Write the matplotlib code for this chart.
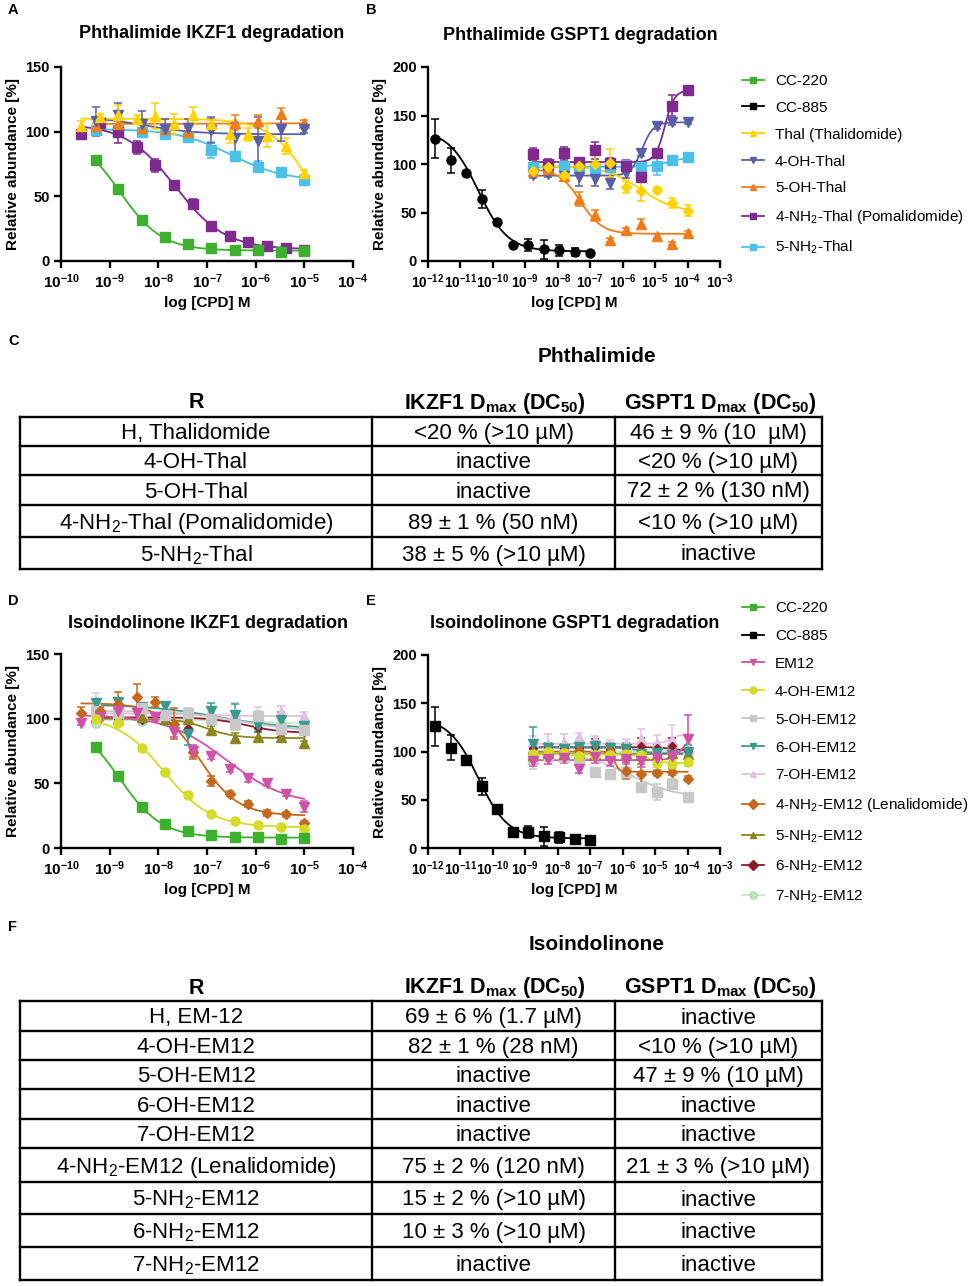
import numpy as np
import matplotlib
matplotlib.use("Agg")
import matplotlib.pyplot as plt
from matplotlib.lines import Line2D

plt.rcParams['font.family'] = ['Liberation Sans', 'DejaVu Sans']
plt.rcParams['mathtext.fontset'] = 'custom'
plt.rcParams['mathtext.rm'] = 'Liberation Sans'
plt.rcParams['mathtext.it'] = 'Liberation Sans:italic'
plt.rcParams['mathtext.bf'] = 'Liberation Sans:bold'

# log10 concentrations [M]
log_c10 = [-9.29, -8.82, -8.34, -7.86, -7.39, -6.91, -6.43, -5.95, -5.48, -5.0]
log_c13 = [-9.58, -9.20, -8.82, -8.44, -8.06, -7.67, -7.29, -6.91, -6.53, -6.15, -5.76, -5.38, -5.0]
log_c885 = [-11.77, -11.29, -10.82, -10.34, -9.86, -9.38, -8.91, -8.43, -7.95, -7.48, -7.0]
log_cg = [-8.77, -8.29, -7.82, -7.34, -6.86, -6.39, -5.91, -5.43, -4.95, -4.48, -4.0]

# panel A: phthalimide IKZF1
a_cc220 = [77.8, 55.4, 31.4, 18.6, 12.9, 10.0, 8.2, 8.5, 7.2, 7.7]
a_cc220_sd = [1.5, 1.5, 1.5, 1.5, 1.5, 1.5, 1.0, 1.0, 1.0, 1.0]
a_thal = [104, 111, 113, 110, 112, 106, 113, 106, 98, 98, 97, 89, 68]
a_thal_sd = [4, 3, 8, 3, 10, 8, 6, 3, 7, 5, 9, 6, 2]
a_4oh = [108, 113, 106, 102, 103, 101, 95, 93, 102, 102]
a_4oh_sd = [11, 9, 10, 8, 7, 10, 12, 18, 9, 3]
a_5oh = [104, 106, 103, 102, 100, 106, 107, 108, 114, 107]
a_5oh_sd = [3, 3, 3, 3, 3, 4, 6, 5, 4, 2]
a_pom = [98, 107, 100, 88, 74, 58.5, 44, 27, 19.5, 14.5, 11.5, 10, 8.5]
a_pom_sd = [2, 3, 9, 5, 5, 2, 4, 3, 2, 2, 2, 2, 2]
a_5nh2 = [101, 101, 100, 98, 96, 86, 81, 73, 69, 63]
a_5nh2_sd = [3, 2, 3, 2, 3, 6, 3, 4, 2, 2]

# panel B: phthalimide GSPT1
b_cc885 = [126, 104, 91, 64, 40, 16.5, 16.5, 12, 11, 9.5, 8.5]
b_cc885_sd = [20, 13, 2, 9, 3, 2, 6, 10, 6, 4, 2]
b_thal = [93, 97, 89, 98, 100, 101, 76, 72, 73, 60, 52]
b_thal_sd = [5, 7, 4, 3, 10, 14, 6, 10, 3, 5, 6]
b_4oh = [89, 90, 88, 87, 85, 80, 91, 111, 139, 143, 143]
b_4oh_sd = [3, 3, 3, 10, 8, 6, 5, 3, 3, 3, 2]
b_5oh = [93, 95, 88, 64, 47, 22, 32, 38, 26, 18, 29]
b_5oh_sd = [5, 5, 5, 7, 6, 2, 2, 5, 2, 2, 2]
b_pom = [110, 100, 111, 102, 114, 101, 98, 87, 111, 160, 176]
b_pom_sd = [6, 5, 7, 3, 9, 5, 6, 5, 3, 11, 4]
b_5nh2 = [97, 96, 98, 97, 96, 97, 99, 97, 98, 104, 107]
b_5nh2_sd = [3, 3, 4, 3, 4, 3, 3, 4, 9, 3, 4]

# panel D: isoindolinone IKZF1
d_em12 = [97, 101, 106, 104, 101, 90, 75, 71, 61, 54, 50, 42, 32]
d_em12_sd = [2, 3, 4, 5, 3, 4, 5, 2, 2, 3, 2, 2, 4]
d_4oh = [100, 97, 77, 59, 41, 26, 20.5, 17.5, 16.5, 15]
d_4oh_sd = [2, 2, 2, 2, 2, 2, 2, 2, 2, 2]
d_5oh = [106, 104, 108, 103, 104, 100, 96, 102, 92, 91]
d_5oh_sd = [4, 3, 4, 3, 4, 4, 5, 4, 4, 3]
d_6oh = [112, 113, 109, 110, 88, 106, 103, 95, 99, 94]
d_6oh_sd = [3, 3, 3, 3, 8, 6, 8, 5, 6, 4]
d_7oh = [113, 106, 104, 103, 104, 103, 104, 102, 105, 102]
d_7oh_sd = [7, 5, 4, 4, 3, 5, 8, 7, 5, 3]
d_lena = [104, 106, 111, 117, 113, 96, 74, 52, 42, 34, 27, 26, 19]
d_lena_sd = [5, 3, 10, 10, 4, 12, 5, 4, 2, 2, 2, 2, 2]
d_5nh2 = [101, 100, 101, 100, 100, 91, 85, 86, 86, 81]
d_5nh2_sd = [3, 3, 3, 3, 3, 3, 4, 4, 3, 2]
d_6nh2 = [102, 100, 99, 101, 93, 100, 98, 93, 89, 90]
d_6nh2_sd = [2, 2, 2, 2, 3, 3, 3, 3, 3, 2]
d_7nh2 = [97, 99, 98, 100, 99, 98, 100, 97, 95, 96]
d_7nh2_sd = [3, 3, 3, 3, 3, 3, 3, 3, 3, 3]

# panel E: isoindolinone GSPT1
e_em12 = [90, 92, 93, 82, 94, 90, 92, 90, 93, 95, 113]
e_em12_sd = [5, 5, 5, 4, 6, 5, 5, 6, 6, 12, 25]
e_4oh = [97, 99, 98, 95, 96, 96, 97, 96, 88, 87, 89]
e_4oh_sd = [4, 4, 4, 4, 4, 4, 4, 4, 4, 5, 4]
e_5oh = [92, 95, 94, 92, 79, 77, 79, 63, 58, 66, 53]
e_5oh_sd = [10, 5, 5, 5, 4, 3, 5, 4, 8, 5, 3]
e_6oh = [108, 104, 103, 105, 106, 104, 103, 97, 98, 96, 100]
e_6oh_sd = [17, 5, 5, 5, 4, 5, 6, 6, 5, 7, 7]
e_7oh = [110, 108, 110, 115, 112, 107, 108, 113, 109, 112, 103]
e_7oh_sd = [6, 10, 8, 4, 4, 5, 5, 10, 8, 15, 5]
e_lena = [98, 100, 99, 101, 97, 100, 80, 77, 78, 79, 72]
e_lena_sd = [3, 3, 4, 3, 3, 4, 9, 10, 3, 3, 3]
e_5nh2 = [96, 98, 97, 98, 97, 97, 98, 96, 97, 98, 97]
e_5nh2_sd = [3, 3, 3, 3, 3, 3, 3, 3, 3, 3, 3]
e_6nh2 = [104, 105, 104, 104, 105, 103, 104, 106, 104, 106, 101]
e_6nh2_sd = [3, 3, 3, 3, 8, 3, 3, 8, 3, 8, 3]
e_7nh2 = [100, 100, 101, 99, 100, 100, 99, 101, 100, 100, 99]
e_7nh2_sd = [3, 3, 3, 3, 3, 3, 3, 3, 3, 3, 3]

# fitted 4PL parameters: (low-conc plateau, high-conc plateau, logEC50, hill)
fit_cc220 = (100, 8, -8.8, 1.0)
fit_cc885 = (135, 10, -10.45, 0.95)

colors = {
    'CC-220': '#3db02d', 'CC-885': '#000000', 'Thal': '#ffd200', '4-OH-Thal': '#5a5ea8',
    '5-OH-Thal': '#f07d1a', 'Pom': '#7e2a8e', '5-NH2-Thal': '#4cc0e8',
    'EM12': '#d052a8', '4-OH-EM12': '#d4dc28', '5-OH-EM12': '#c8c8c8', '6-OH-EM12': '#3a9a8c',
    '7-OH-EM12': '#e2c2e2', 'Lena': '#c2691e', '5-NH2-EM12': '#8a8620', '6-NH2-EM12': '#8c1a2c',
    '7-NH2-EM12': '#c6e6c6',
}

W, H = 976, 1286
fig = plt.figure(figsize=(W / 100, H / 100), dpi=100)


def px_axes(left, top, right, bottom):
    return fig.add_axes([left / W, 1 - bottom / H, (right - left) / W, (bottom - top) / H])


def plot_series(ax, logx, y, sd, color, marker, fit, ms=6.5, ec=None):
    x = 10.0 ** np.array(logx)
    ax.errorbar(x, y, yerr=sd, fmt=marker, color=color, ms=ms, mec=ec or color,
                elinewidth=1.1, capsize=3, capthick=1.1, zorder=3, clip_on=False)
    xx = np.linspace(min(logx), max(logx), 300)
    top, bot, c, h = fit
    yy = bot + (top - bot) / (1 + 10 ** ((xx - c) * h))
    ax.plot(10 ** xx, yy, color=color, lw=1.3, zorder=2)


def style_axes(ax, xmin, xmax, ymax, xlabsize):
    ax.set_xscale('log')
    ax.set_xlim(10.0 ** xmin, 10.0 ** xmax)
    ax.set_ylim(0, ymax)
    ks = list(range(xmin, xmax + 1))
    ax.set_xticks([10.0 ** k for k in ks])
    ax.set_xticklabels([r'$\mathbf{10^{%d}}$' % k for k in ks])
    ax.xaxis.set_minor_locator(matplotlib.ticker.NullLocator())
    ax.set_yticks(np.arange(0, ymax + 1, 50))
    ax.set_yticklabels([str(v) for v in range(0, ymax + 1, 50)], fontweight='bold')
    for s in ['top', 'right']:
        ax.spines[s].set_visible(False)
    for s in ['left', 'bottom']:
        ax.spines[s].set_linewidth(1.7)
    ax.tick_params(width=1.7, length=5, labelsize=10.5, pad=3)
    ax.tick_params(axis='x', labelsize=xlabsize)
    ax.set_xlabel('log [CPD] M', fontweight='bold', fontsize=11, labelpad=4)
    ax.set_ylabel('Relative abundance [%]', fontweight='bold', fontsize=11, labelpad=4)
    ax.patch.set_alpha(0)


# ---- panel A
ax = px_axes(61, 67, 353, 261)
plot_series(ax, log_c10, a_5nh2, a_5nh2_sd, colors['5-NH2-Thal'], 's', (102, 62, -6.5, 0.8))
plot_series(ax, log_c13, a_pom, a_pom_sd, colors['Pom'], 's', (106, 9, -7.65, 0.85))
plot_series(ax, log_c10, a_5oh, a_5oh_sd, colors['5-OH-Thal'], '^', (106, 106.5, -7.0, 1.0))
plot_series(ax, log_c10, a_4oh, a_4oh_sd, colors['4-OH-Thal'], 'v', (112, 98, -8.3, 0.8))
plot_series(ax, log_c13, a_thal, a_thal_sd, colors['Thal'], '^', (110, 0, -4.79, 1.0))
plot_series(ax, log_c10, a_cc220, a_cc220_sd, colors['CC-220'], 's', fit_cc220)
style_axes(ax, -10, -4, 150, 11)
fig.text(212 / W, 1 - 34 / H, 'Phthalimide IKZF1 degradation', ha='center', va='center',
         fontsize=13, fontweight='bold')

# ---- panel B
ax = px_axes(428, 67, 720, 261)
plot_series(ax, log_c885, b_cc885, b_cc885_sd, colors['CC-885'], 'o', fit_cc885)
plot_series(ax, log_cg, b_5nh2, b_5nh2_sd, colors['5-NH2-Thal'], 's', (97, 107, -4.6, 1.5))
plot_series(ax, log_cg, b_4oh, b_4oh_sd, colors['4-OH-Thal'], 'v', (88, 143, -5.4, 2.5))
plot_series(ax, log_cg, b_pom, b_pom_sd, colors['Pom'], 's', (102, 176, -4.7, 3.0))
plot_series(ax, log_cg, b_5oh, b_5oh_sd, colors['5-OH-Thal'], '^', (95, 28, -7.3, 1.3))
plot_series(ax, log_cg, b_thal, b_thal_sd, colors['Thal'], 'D', (98, 50, -5.45, 0.8), ms=5.5)
style_axes(ax, -12, -3, 200, 9.8)
fig.text(580 / W, 1 - 35 / H, 'Phthalimide GSPT1 degradation', ha='center', va='center',
         fontsize=13, fontweight='bold')

# ---- panel D
ax = px_axes(61, 654, 353, 848)
plot_series(ax, log_c10, d_7nh2, d_7nh2_sd, colors['7-NH2-EM12'], 'o', (99, 96, -6.0, 1.0), ec='#b0d8b0')
plot_series(ax, log_c10, d_7oh, d_7oh_sd, colors['7-OH-EM12'], '^', (104, 102, -7.0, 1.0))
plot_series(ax, log_c10, d_6nh2, d_6nh2_sd, colors['6-NH2-EM12'], 'D', (101, 89, -6.2, 1.2), ms=4.5)
plot_series(ax, log_c10, d_5nh2, d_5nh2_sd, colors['5-NH2-EM12'], '^', (100, 85, -7.0, 1.5))
plot_series(ax, log_c10, d_6oh, d_6oh_sd, colors['6-OH-EM12'], 'v', (111, 92, -6.8, 0.6))
plot_series(ax, log_c10, d_5oh, d_5oh_sd, colors['5-OH-EM12'], 's', (106, 90, -6.3, 0.7))
plot_series(ax, log_c13, d_lena, d_lena_sd, colors['Lena'], 'D', (112, 25, -7.15, 1.1), ms=5.5)
plot_series(ax, log_c13, d_em12, d_em12_sd, colors['EM12'], 'v', (103, 33, -6.6, 0.7))
plot_series(ax, log_c10, d_4oh, d_4oh_sd, colors['4-OH-EM12'], 'o', (102, 16, -7.88, 0.9))
plot_series(ax, log_c10, a_cc220, a_cc220_sd, colors['CC-220'], 's', fit_cc220)
style_axes(ax, -10, -4, 150, 11)
fig.text(208 / W, 1 - 623 / H, 'Isoindolinone IKZF1 degradation', ha='center', va='center',
         fontsize=13, fontweight='bold')

# ---- panel E
ax = px_axes(428, 655, 720, 848)
plot_series(ax, log_c885, b_cc885, b_cc885_sd, colors['CC-885'], 's', fit_cc885)
plot_series(ax, log_cg, e_7nh2, e_7nh2_sd, colors['7-NH2-EM12'], 'o', (100, 100, -6.0, 1.0), ec='#b0d8b0')
plot_series(ax, log_cg, e_5oh, e_5oh_sd, colors['5-OH-EM12'], 's', (100, 52, -5.8, 0.6))
plot_series(ax, log_cg, e_7oh, e_7oh_sd, colors['7-OH-EM12'], '^', (108, 118, -4.5, 3.0))
plot_series(ax, log_cg, e_5nh2, e_5nh2_sd, colors['5-NH2-EM12'], '^', (97, 97, -6.0, 1.0))
plot_series(ax, log_cg, e_6nh2, e_6nh2_sd, colors['6-NH2-EM12'], 'D', (104.5, 101, -4.5, 2.0), ms=4.5)
plot_series(ax, log_cg, e_6oh, e_6oh_sd, colors['6-OH-EM12'], 'v', (104, 98, -5.5, 2.0))
plot_series(ax, log_cg, e_lena, e_lena_sd, colors['Lena'], 'D', (100, 79, -6.25, 6.0), ms=5.5)
plot_series(ax, log_cg, e_4oh, e_4oh_sd, colors['4-OH-EM12'], 'o', (97, 88, -5.2, 2.0))
plot_series(ax, log_cg, e_em12, e_em12_sd, colors['EM12'], 'v', (91, 120, -4.1, 2.5))
style_axes(ax, -12, -3, 200, 9.8)
fig.text(575 / W, 1 - 623 / H, 'Isoindolinone GSPT1 degradation', ha='center', va='center',
         fontsize=13, fontweight='bold')

# ---- legends
def make_legend(entries, top_px, spacing):
    handles = [Line2D([], [], color=colors[k], marker=m, ms=5, lw=1.3,
                      mec=('#b0d8b0' if k == '7-NH2-EM12' else colors[k])) for k, m, _ in entries]
    labels = [lab for _, _, lab in entries]
    fig.legend(handles, labels, loc='upper left', bbox_to_anchor=(742 / W, 1 - top_px / H),
               frameon=False, fontsize=11, handlelength=1.45, handletextpad=0.7,
               labelspacing=spacing, borderpad=0, borderaxespad=0)


make_legend([('CC-220', 's', 'CC-220'), ('CC-885', 's', 'CC-885'),
             ('Thal', '^', 'Thal (Thalidomide)'), ('4-OH-Thal', 'v', '4-OH-Thal'),
             ('5-OH-Thal', '^', '5-OH-Thal'), ('Pom', 's', '4-NH$_2$-Thal (Pomalidomide)'),
             ('5-NH2-Thal', 's', '5-NH$_2$-Thal')], 74, 0.84)
make_legend([('CC-220', 's', 'CC-220'), ('CC-885', 's', 'CC-885'), ('EM12', 'v', 'EM12'),
             ('4-OH-EM12', 'o', '4-OH-EM12'), ('5-OH-EM12', 's', '5-OH-EM12'),
             ('6-OH-EM12', 'v', '6-OH-EM12'), ('7-OH-EM12', '^', '7-OH-EM12'),
             ('Lena', 'D', '4-NH$_2$-EM12 (Lenalidomide)'), ('5-NH2-EM12', '^', '5-NH$_2$-EM12'),
             ('6-NH2-EM12', 'D', '6-NH$_2$-EM12'), ('7-NH2-EM12', 'o', '7-NH$_2$-EM12')], 601, 0.91)

# ---- tables
tab_headers = ['R', r'IKZF1 D$_{\mathbf{max}}$ (DC$_{\mathbf{50}}$)', r'GSPT1 D$_{\mathbf{max}}$ (DC$_{\mathbf{50}}$)']

tab_c_r = ['H, Thalidomide', '4-OH-Thal', '5-OH-Thal', '4-NH$_2$-Thal (Pomalidomide)', '5-NH$_2$-Thal']
tab_c_ikzf1 = ['<20 % (>10 µM)', 'inactive', 'inactive', '89 ± 1 % (50 nM)', '38 ± 5 % (>10 µM)']
tab_c_gspt1 = ['46 ± 9 % (10  µM)', '<20 % (>10 µM)', '72 ± 2 % (130 nM)', '<10 % (>10 µM)', 'inactive']

tab_f_r = ['H, EM-12', '4-OH-EM12', '5-OH-EM12', '6-OH-EM12', '7-OH-EM12',
           '4-NH$_2$-EM12 (Lenalidomide)', '5-NH$_2$-EM12', '6-NH$_2$-EM12', '7-NH$_2$-EM12']
tab_f_ikzf1 = ['69 ± 6 % (1.7 µM)', '82 ± 1 % (28 nM)', 'inactive', 'inactive', 'inactive',
               '75 ± 2 % (120 nM)', '15 ± 2 % (>10 µM)', '10 ± 3 % (>10 µM)', 'inactive']
tab_f_gspt1 = ['inactive', '<10 % (>10 µM)', '47 ± 9 % (10 µM)', 'inactive', 'inactive',
               '21 ± 3 % (>10 µM)', 'inactive', 'inactive', 'inactive']

tab = fig.add_axes([0, 0, 1, 1])
tab.set_xlim(0, W)
tab.set_ylim(H, 0)
tab.axis('off')

cols = [20, 372, 615, 822]
head_x = [196, 495, 720]


def draw_table(title, title_y, header_y, edges, col_r, col_i, col_g):
    tab.text(597, title_y, title, ha='center', va='center', fontsize=15, fontweight='bold')
    for hx, h in zip(head_x, tab_headers):
        tab.text(hx, header_y, h, ha='center', va='center', fontsize=15.5, fontweight='bold')
    for y in edges:
        tab.plot([cols[0], cols[-1]], [y, y], color='black', lw=1.7, solid_capstyle='projecting')
    for x in cols:
        tab.plot([x, x], [edges[0], edges[-1]], color='black', lw=1.7, solid_capstyle='projecting')
    for i in range(len(col_r)):
        yc = (edges[i] + edges[i + 1]) / 2 + 2
        for j, txt in enumerate([col_r[i], col_i[i], col_g[i]]):
            tab.text((cols[j] + cols[j + 1]) / 2, yc, txt, ha='center', va='center', fontsize=16)


draw_table('Phthalimide', 357, 403, [417, 446, 475, 505, 537, 569],
           tab_c_r, tab_c_ikzf1, tab_c_gspt1)
draw_table('Isoindolinone', 945, 988, [1001, 1031, 1060, 1089, 1119, 1148, 1182, 1214, 1247, 1280],
           tab_f_r, tab_f_ikzf1, tab_f_gspt1)

# panel letters
for letter, lx, ly in [('A', 8, 10), ('B', 366, 10), ('C', 8, 341),
                       ('D', 8, 601), ('E', 366, 601), ('F', 8, 927)]:
    fig.text(lx / W, 1 - ly / H, letter, ha='left', va='center', fontsize=10.5, fontweight='bold')

fig.savefig('out.png', dpi=100)
